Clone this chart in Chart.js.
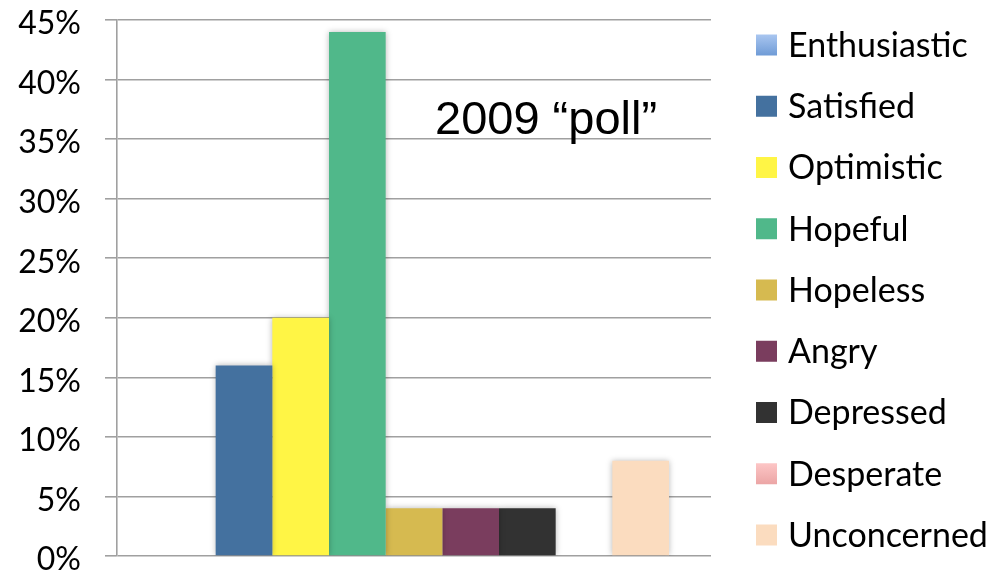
<!DOCTYPE html>
<html>
<head>
<meta charset="utf-8">
<script src="https://cdn.jsdelivr.net/npm/chart.js@4.4.1/dist/chart.umd.min.js"></script>
<style>
  html, body { margin: 0; padding: 0; background: #fff; }
  #wrap { width: 1007px; height: 570px; }
</style>
</head>
<body>
<div id="wrap"><canvas id="pollChart"></canvas></div>
<script>
// data
const categories = ['2009'];
const seriesNames = ['Enthusiastic', 'Satisfied', 'Optimistic', 'Hopeful', 'Hopeless', 'Angry', 'Depressed', 'Desperate', 'Unconcerned'];
const seriesValues = [0, 16, 20, 44, 4, 4, 4, 0, 8];
const seriesColors = ['#6f9bd6', '#44719f', '#fff545', '#50b88a', '#d6ba50', '#7a3d5e', '#323232', '#eba5a5', '#fbdcbf'];
// top colour for the legend swatches that have a gradient (null = flat)
const swatchTop = ['#a9c6f0', null, null, null, null, null, null, '#fdc6c6', null];
const yTicks = [0, 5, 10, 15, 20, 25, 30, 35, 40, 45];
const annotationText = '2009 \u201cpoll\u201d';

const FONT = 'Lato, "Open Sans", sans-serif';

const shadowPlugin = {
    id: 'shadowPlugin',
    beforeDatasetsDraw(chart) {
        const ctx = chart.ctx;
        ctx.save();
        ctx.shadowColor = 'rgba(0,0,0,0.28)';
        ctx.shadowBlur = 6;
        ctx.shadowOffsetX = 0;
        ctx.shadowOffsetY = 0;
    },
    afterDatasetsDraw(chart) {
        chart.ctx.restore();
    }
};

const sideLegend = {
    id: 'sideLegend',
    afterDraw(chart) {
        const ctx = chart.ctx;
        const area = chart.chartArea;
        const boxX = area.right + 45;
        const textX = boxX + 32;
        const firstY = 45;
        const step = 61.25;
        const box = 21;

        ctx.save();
        ctx.font = '34px ' + FONT;
        ctx.textBaseline = 'middle';
        ctx.fillStyle = '#000';
        chart.data.datasets.forEach((ds, i) => {
            const cy = firstY + i * step;
            const top = cy - box / 2;
            if (swatchTop[i]) {
                const g = ctx.createLinearGradient(0, top, 0, top + box);
                g.addColorStop(0, swatchTop[i]);
                g.addColorStop(1, ds.backgroundColor);
                ctx.fillStyle = g;
            } else {
                ctx.fillStyle = ds.backgroundColor;
            }
            ctx.fillRect(boxX, top, box, box);
            ctx.fillStyle = '#000';
            ctx.fillText(ds.label, textX, cy + 1);
        });

        // "2009 poll" note inside the plot
        ctx.font = '47px "Liberation Sans", Arial, sans-serif';
        ctx.textBaseline = 'alphabetic';
        ctx.fillText(annotationText, area.left + 318, area.top + 114);
        ctx.restore();
    }
};

const datasets = seriesNames.map((name, i) => ({
    label: name,
    data: [seriesValues[i]],
    backgroundColor: seriesColors[i],
    borderWidth: 0,
    categoryPercentage: 0.8586,
    barPercentage: 1
}));

new Chart(document.getElementById('pollChart'), {
    type: 'bar',
    data: { labels: categories, datasets: datasets },
    options: {
        responsive: true,
        maintainAspectRatio: false,
        animation: false,
        layout: {
            padding: { top: 20, bottom: 14, left: 0, right: 296 }
        },
        plugins: {
            legend: { display: false },
            tooltip: { enabled: false }
        },
        scales: {
            x: {
                display: false
            },
            y: {
                min: 0,
                max: 45,
                afterBuildTicks: (scale) => {
                    scale.ticks = yTicks.map(v => ({ value: v }));
                },
                afterFit: (scale) => {
                    scale.width = 117;
                    scale.paddingTop = 0;
                    scale.paddingBottom = 0;
                },
                ticks: {
                    color: '#000',
                    padding: 24,
                    labelOffset: 4,
                    font: { family: FONT, size: 32 },
                    callback: (v) => v + '%'
                },
                grid: {
                    color: '#a0a0a0',
                    lineWidth: 1.6,
                    tickLength: 12,
                    drawTicks: true
                },
                border: {
                    display: true,
                    color: '#a0a0a0',
                    width: 1.6
                }
            }
        }
    },
    plugins: [shadowPlugin, sideLegend]
});
</script>
</body>
</html>
